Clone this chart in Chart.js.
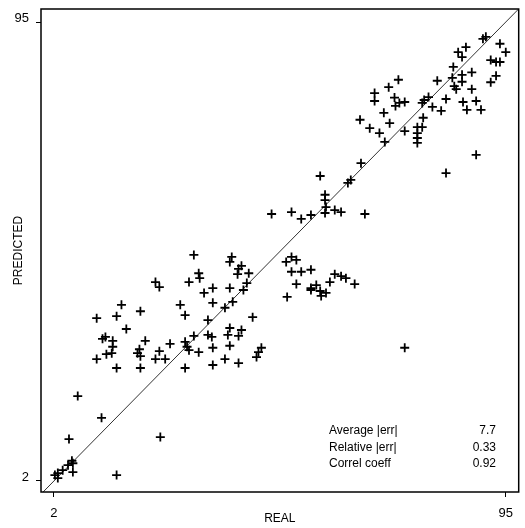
<!DOCTYPE html>
<html>
<head>
<meta charset="utf-8">
<script src="https://cdn.jsdelivr.net/npm/chart.js@4.4.1/dist/chart.umd.min.js"></script>
<style>
  body { margin: 0; background: #fff; }
</style>
</head>
<body>
<canvas id="chart" width="525" height="528"></canvas>
<script>
// real vs predicted values
const realVals = [
  2.2, 2.8, 2.8, 3.8, 4.9, 5.7, 5.9, 5.9, 14.9, 5.1, 6.9, 11.8, 23.9,
  10.8, 10.8, 12.0, 12.6, 12.8, 13.9, 14.1, 14.1, 14.9, 14.9, 15.9, 16.9,
  19.2, 19.6, 19.8, 19.8, 19.8, 20.8, 22.9, 23.7, 23.7, 22.9, 24.9, 25.9,
  28.0, 29.0, 29.0, 29.4, 29.0, 29.8, 29.8, 30.8, 30.8, 31.8, 32.0, 31.8,
  32.9, 33.7, 33.7, 34.5, 34.7, 34.7, 34.7, 34.7, 37.2, 37.2, 37.8, 38.2,
  38.2, 38.2, 38.2, 38.6, 38.8, 40.0, 40.0, 40.6, 40.6, 40.0, 39.8, 42.1,
  41.7, 41.0, 42.9, 43.7, 44.1, 44.7,
  46.8, 50.9, 52.9, 54.9, 56.8, 57.8, 57.8, 58.0, 57.8, 59.8, 61.1, 62.5,
  63.1, 66.0, 49.8, 50.9, 51.9, 50.9, 52.9, 54.9, 51.9, 50.0, 54.9, 56.0,
  54.9, 56.8, 57.0, 58.0, 58.8, 59.8, 61.1, 62.1, 63.9, 74.2,
  65.2, 65.0, 67.0, 69.0, 70.1, 69.9, 71.1, 68.0, 68.0, 70.9, 72.9, 72.1,
  72.3, 73.1, 74.2, 74.2, 76.8, 77.8, 76.8, 76.8, 76.8, 78.0, 77.8, 78.2,
  79.1, 79.9, 81.7, 82.7, 80.9, 82.7, 84.0, 84.2, 84.4, 84.8, 85.2, 86.0,
  86.0, 86.0, 86.2, 86.8, 87.0, 88.0, 88.0, 88.9, 88.9, 89.9, 90.3, 90.9,
  91.9, 93.0, 93.8, 91.9, 93.0, 93.8, 95.0
];
const predictedVals = [
  3.2, 3.6, 2.6, 4.2, 5.2, 6.1, 5.6, 3.8, 3.2, 10.5, 19.2, 14.8, 10.9,
  35.0, 26.7, 30.8, 31.2, 27.7, 27.9, 30.4, 29.2, 35.4, 24.9, 37.7, 32.8,
  27.9, 28.7, 27.3, 36.4, 24.9, 30.4, 42.3, 41.3, 28.3, 26.7, 26.7, 29.8,
  37.7, 35.6, 30.2, 29.2, 24.9, 28.5, 42.3, 47.8, 31.4, 44.1, 43.1, 28.1,
  40.1, 34.6, 31.6, 31.2, 41.1, 38.1, 29.0, 25.5, 37.1, 26.7, 31.6, 33.0,
  29.4, 41.1, 46.4, 47.4, 38.3, 31.4, 25.9, 32.6, 45.6, 45.0, 43.9, 44.1,
  42.1, 40.7, 35.2, 27.1, 28.1, 29.0,
  56.1, 56.5, 55.1, 55.9, 63.8, 60.0, 58.9, 57.5, 56.3, 56.9, 56.5, 62.4,
  63.0, 56.1, 46.4, 47.4, 46.8, 44.4, 44.4, 44.8, 41.9, 39.3, 41.1, 41.7,
  40.7, 40.5, 39.5, 40.1, 42.3, 43.9, 43.5, 43.1, 41.9, 29.0,
  66.4, 75.2, 73.5, 72.5, 70.7, 76.6, 74.5, 80.6, 79.0, 81.8, 83.3, 79.7,
  78.0, 78.6, 78.8, 72.9, 73.7, 73.7, 72.5, 71.5, 70.5, 75.6, 78.6, 79.2,
  79.8, 77.8, 77.0, 79.4, 83.1, 64.4, 83.7, 85.9, 82.0, 81.4, 88.9, 87.9,
  84.3, 82.9, 78.8, 89.9, 77.2, 84.8, 81.4, 79.0, 68.1, 77.2, 91.6, 92.0,
  87.3, 86.9, 86.9, 82.8, 84.1, 90.6, 88.9
];
const axisTicks = [2, 95];
const diagonal = [-0.7, 97.7];
const statLabels = ['Average |err|', 'Relative |err|', 'Correl coeff'];
const statValues = ['7.7', '0.33', '0.92'];

const points = realVals.map((x, i) => ({ x: x, y: predictedVals[i] }));
const fontFamily = '"Liberation Sans", Arial, sans-serif';

const framePlugin = {
  id: 'frame',
  afterDraw(chart) {
    const { ctx, chartArea: a } = chart;
    ctx.save();
    ctx.strokeStyle = '#000';
    ctx.lineWidth = 1.5;
    ctx.strokeRect(a.left, a.top, a.right - a.left, a.bottom - a.top);

    // stats box, lower right
    ctx.fillStyle = '#000';
    ctx.font = '12px ' + fontFamily;
    ctx.textBaseline = 'middle';
    statLabels.forEach((lab, i) => {
      const y = 431 + i * 16.5;
      ctx.textAlign = 'left';
      ctx.fillText(lab, 329, y);
      ctx.textAlign = 'right';
      ctx.fillText(statValues[i], 496, y);
    });
    ctx.restore();
  }
};

new Chart(document.getElementById('chart'), {
  type: 'scatter',
  data: {
    datasets: [{
      data: points,
      pointStyle: 'cross',
      pointRadius: 4.5,
      borderColor: '#000',
      borderWidth: 1.8,
      backgroundColor: '#000'
    }, {
      type: 'line',
      data: diagonal.map(v => ({ x: v, y: v })),
      borderColor: '#333',
      borderWidth: 1,
      pointRadius: 0,
      fill: false
    }]
  },
  options: {
    responsive: false,
    animation: false,
    layout: { padding: { top: 9, right: 1, left: 0, bottom: 0 } },
    plugins: { legend: { display: false }, tooltip: { enabled: false } },
    scales: {
      x: {
        type: 'linear',
        min: -0.66,
        max: 97.66,
        afterBuildTicks: s => { s.ticks = axisTicks.map(v => ({ value: v })); },
        afterFit: s => { s.height = 36; s.paddingLeft = 0; s.paddingRight = 0; },
        border: { display: false },
        grid: { drawOnChartArea: false, drawTicks: true, tickLength: 5, color: '#000' },
        ticks: { autoSkip: false, maxRotation: 0, color: '#000', padding: 9,
                 font: { family: fontFamily, size: 13 } },
        title: { display: true, text: 'REAL', color: '#000',
                 font: { family: fontFamily, size: 12 }, padding: { top: 0, bottom: 2 } }
      },
      y: {
        type: 'linear',
        min: -0.23,
        max: 97.64,
        afterBuildTicks: s => { s.ticks = axisTicks.map(v => ({ value: v })); },
        afterFit: s => { s.width = 41; s.paddingTop = 0; s.paddingBottom = 0; },
        border: { display: false },
        grid: { drawOnChartArea: false, drawTicks: true, tickLength: 5, color: '#000' },
        ticks: { autoSkip: false, color: '#000', padding: 7, labelOffset: -4,
                 font: { family: fontFamily, size: 13 } },
        title: { display: true, text: 'PREDICTED', color: '#000',
                 font: { family: fontFamily, size: 12 }, padding: { top: 11, bottom: 0 } }
      }
    }
  },
  plugins: [framePlugin]
});
</script>
</body>
</html>
